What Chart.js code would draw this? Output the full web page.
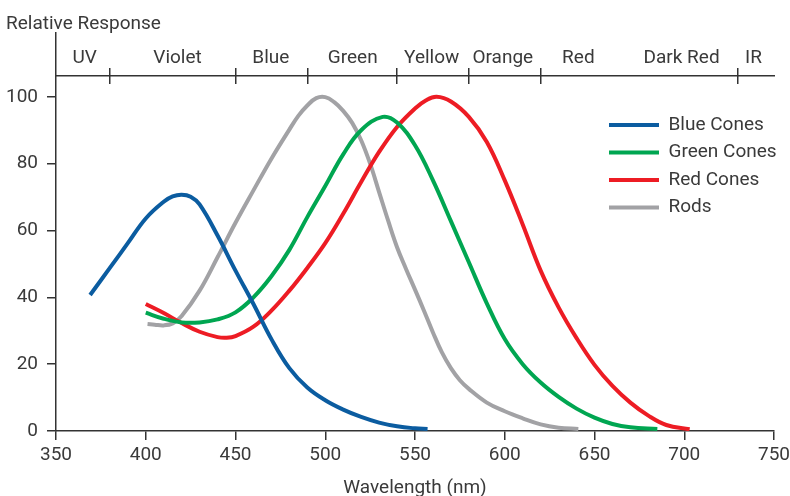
<!DOCTYPE html>
<html><head><meta charset="utf-8">
<script src="https://cdn.jsdelivr.net/npm/chart.js@4"></script>
<style>html,body{margin:0;padding:0;background:#fff}#wrap{width:790px;height:496px;position:relative}</style>
</head><body><div id="wrap"><canvas id="c" width="790" height="496"></canvas></div>
<script>
// ---- data ----
const blueX  = [369,380,390,400,410,415,420,425,430,440,450,460,470,480,490,500,510,520,530,540,550,557];
const blueY  = [40.7,48.8,56.2,63.6,68.6,70.2,70.7,70.1,67.8,58.5,48,38,27.5,18.8,13,9.2,6.4,4.2,2.5,1.4,0.8,0.6];
const greenX = [400,410,420,430,440,450,460,470,480,490,500,510,520,532,540,550,560,570,580,590,600,610,620,630,640,650,660,670,685];
const greenY = [35.4,33.6,32.5,32.5,33.4,35.5,40,46.3,54.2,64,73.3,82.8,90,94,92.3,85.5,75,62.8,50.5,38.2,27.5,20,14.5,10.2,6.7,4,2.1,1.1,0.6];
const redX   = [400,410,420,430,440,445,450,460,470,480,490,500,510,520,530,540,550,556,562,570,580,590,600,610,620,630,640,650,660,670,680,690,703];
const redY   = [38,35.3,32.3,29.7,28.1,27.9,28.4,31.2,36,42,48.8,56.2,65,74.5,83.5,91,96.5,98.9,100,98.6,94,86.5,75,61.8,48,37,27.8,19.8,13.5,8.5,4.6,1.8,0.5];
const rodX   = [401,405,410,415,420,430,440,450,460,470,480,485,490,495,500,505,510,515,520,525,530,535,540,545,550,555,560,565,570,575,580,590,600,610,620,630,641];
const rodY   = [32,31.8,31.6,32.2,34.4,42,52,62.3,72,81.5,90.2,94.3,97.4,99.6,99.9,98.4,95.8,92.2,87,80,71.5,63,55,48.5,42.3,36,29.5,23.5,18.8,15.2,12.6,8.5,5.9,3.8,2,1,0.6];
const seriesNames = ['Blue Cones','Green Cones','Red Cones','Rods'];
const yTickValues = [0,20,40,60,80,100];
const bandEdges   = [380,450,490,540,580,620,730];
const bandNames   = ['UV','Violet','Blue','Green','Yellow','Orange','Red','Dark Red','IR'];
const bandCenters = [366,417.7,469.7,515.3,559.3,598.9,641,698.5,738.6];

// ---- styles ----
const FONT = 'Roboto';
const TEXT = '#3a3a3a';
const AXIS = '#333333';
const COLORS = ['#0b5ca0','#00a651','#ed1c24','#a2a2a5'];
const Y_TOP = 119.1;
const BAND_TICK_Y = 108.6, BAND_LINE_Y = 106.25, BAND_LABEL_Y = 115.1;

const pts = (xs, ys) => xs.map((x, i) => ({x: x, y: ys[i]}));
const sets = [[blueX,blueY],[greenX,greenY],[redX,redY],[rodX,rodY]];

const datasets = sets.map((s, i) => ({
  label: seriesNames[i],
  data: pts(s[0], s[1]),
  borderColor: COLORS[i],
  backgroundColor: COLORS[i],
  borderWidth: 4,
  pointRadius: 0,
  pointHoverRadius: 0,
  pointBorderWidth: 4,
  fill: false,
  tension: 0.4,
  borderCapStyle: 'butt'
}));

const font = (size) => ({family: FONT, size: size});

const legendPlacer = {
  id: 'legendPlacer',
  afterLayout(chart) {
    const lg = chart.legend;
    if (!lg) return;
    const h = lg.height;
    lg.left = 600.5; lg.right = lg.left + lg.width;
    lg.top = 107; lg.bottom = lg.top + h;
  }
};

const noEdgePadding = (s) => { s.paddingLeft = 0; s.paddingRight = 0; };

new Chart(document.getElementById('c'), {
  type: 'line',
  data: { datasets: datasets },
  plugins: [legendPlacer],
  options: {
    responsive: false,
    animation: false,
    devicePixelRatio: 1,
    layout: { padding: { left: 6, right: 16, top: 0, bottom: 0 } },
    plugins: {
      tooltip: { enabled: false },
      title: {
        display: true, text: 'Relative Response', align: 'start', color: TEXT,
        font: { family: FONT, size: 19, weight: 'normal', lineHeight: 1 },
        padding: { top: 15, bottom: -1 }
      },
      legend: {
        position: 'chartArea', align: 'start',
        labels: {
          usePointStyle: true, pointStyle: 'line', pointStyleWidth: 50,
          font: font(19), color: TEXT, padding: 8.5
        }
      }
    },
    scales: {
      x: {
        type: 'linear', position: 'bottom', min: 350, max: 750,
        ticks: { stepSize: 50, color: TEXT, font: font(19), padding: 4, maxRotation: 0 },
        grid: { drawOnChartArea: false, tickLength: 9, color: AXIS, lineWidth: 1.5 },
        border: { color: AXIS, width: 1.5 },
        title: { display: true, text: 'Wavelength (nm)', color: TEXT, font: font(19), padding: { top: 0, bottom: -4 } },
        afterFit: (s) => { s.height = 65; noEdgePadding(s); }
      },
      y: {
        type: 'linear', position: 'left', min: 0, max: Y_TOP,
        afterBuildTicks: (s) => { s.ticks = yTickValues.map(v => ({value: v})); },
        ticks: { color: TEXT, font: font(19), padding: 9 },
        grid: { drawOnChartArea: false, tickLength: 9, color: AXIS, lineWidth: 1.5 },
        border: { color: AXIS, width: 1.5 },
        afterFit: (s) => { s.width = 50; }
      },
      bandTicks: {
        type: 'linear', axis: 'x', position: { y: BAND_TICK_Y }, min: 350, max: 750,
        afterBuildTicks: (s) => { s.ticks = bandEdges.map(v => ({value: v})); },
        ticks: { display: false },
        grid: { drawOnChartArea: false, tickLength: 16, color: AXIS, lineWidth: 1.5 },
        border: { display: false },
        afterFit: noEdgePadding
      },
      bandLine: {
        type: 'linear', axis: 'x', position: { y: BAND_LINE_Y }, min: 350, max: 750,
        ticks: { display: false },
        grid: { display: false, drawTicks: false },
        border: { display: true, color: AXIS, width: 1.5 },
        afterFit: noEdgePadding
      },
      bandLabels: {
        type: 'linear', axis: 'x', position: { y: BAND_LABEL_Y }, min: 350, max: 750,
        afterBuildTicks: (s) => { s.ticks = bandCenters.map(v => ({value: v})); },
        ticks: { autoSkip: false, maxRotation: 0, padding: 0, color: TEXT, font: font(19),
                 callback: (v, i) => bandNames[i] },
        grid: { display: false, drawTicks: false },
        border: { display: false },
        afterFit: noEdgePadding
      }
    }
  }
});
</script></body></html>
